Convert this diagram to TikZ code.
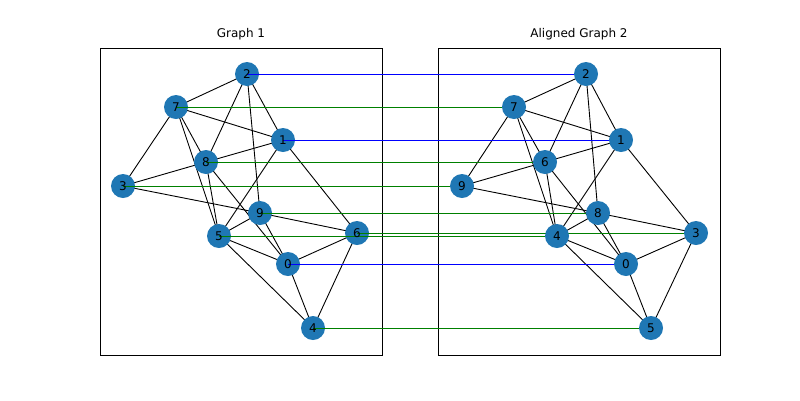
\documentclass[tikz,border=0pt]{standalone}
\usepackage{fontspec}
\setmainfont{DejaVu Sans}
\begin{document}
\begin{tikzpicture}[x=1pt,y=-1pt,
  nd/.style={circle,fill={rgb,255:red,31;green,119;blue,180},minimum size=24pt,inner sep=0pt,font=\fontsize{12}{12}\selectfont},
  ed/.style={black,line width=0.9pt},
  ok/.style={blue,line width=0.9pt},
  bad/.style={green!50!black,line width=0.9pt},
  tt/.style={font=\fontsize{12}{12}\selectfont}]
\useasboundingbox (0,0) rectangle (800,400);
\draw[line width=0.8pt] (100,48) rectangle (382,355);
\draw[line width=0.8pt] (438,48) rectangle (720,355);
\node[tt] (t1) at (241,34) {Graph 1};
\node[tt] (t2) at (579,34) {Aligned Graph 2};
% graph 1
\foreach \n/\x/\y in {2/247/74,7/176/107,1/283/140,8/206/162,3/123/186,9/260/213,5/219/236,6/357/233,0/288/264,4/313/328}
  \coordinate (a\n) at (\x,\y);
\foreach \u/\v in {2/7,2/8,2/9,2/1,7/1,7/3,7/8,7/5,8/5,8/1,8/3,8/0,1/5,1/6,3/9,9/5,9/6,9/0,5/0,5/4,6/0,6/4,0/4}
  \draw[ed] (a\u) -- (a\v);
\foreach \n in {0,...,9} \node[nd] (A\n) at (a\n) {};
% graph 2
\foreach \n/\x/\y in {2/586/74,7/514/107,1/621/140,6/545/162,9/462/186,8/598/213,4/557/236,3/696/233,0/626/264,5/651/328}
  \coordinate (b\n) at (\x,\y);
\foreach \u/\v in {2/7,2/6,2/8,2/1,7/1,7/9,7/6,7/4,6/4,6/1,6/9,6/0,1/4,1/3,9/8,8/4,8/3,8/0,4/0,4/5,3/0,3/5,0/5}
  \draw[ed] (b\u) -- (b\v);
% alignment
\foreach \i/\j/\s in {2/2/ok,1/1/ok,0/0/ok,7/7/bad,8/6/bad,3/9/bad,9/8/bad,5/4/bad,6/3/bad,4/5/bad}
  \draw[\s] (A\i.center) -- (b\j);
\foreach \n in {0,...,9} \node[nd] (B\n) at (b\n) {};
\foreach \n in {0,...,9} {\node[tt] at (a\n) {\n}; \node[tt] at (b\n) {\n};}
\end{tikzpicture}
\end{document}
